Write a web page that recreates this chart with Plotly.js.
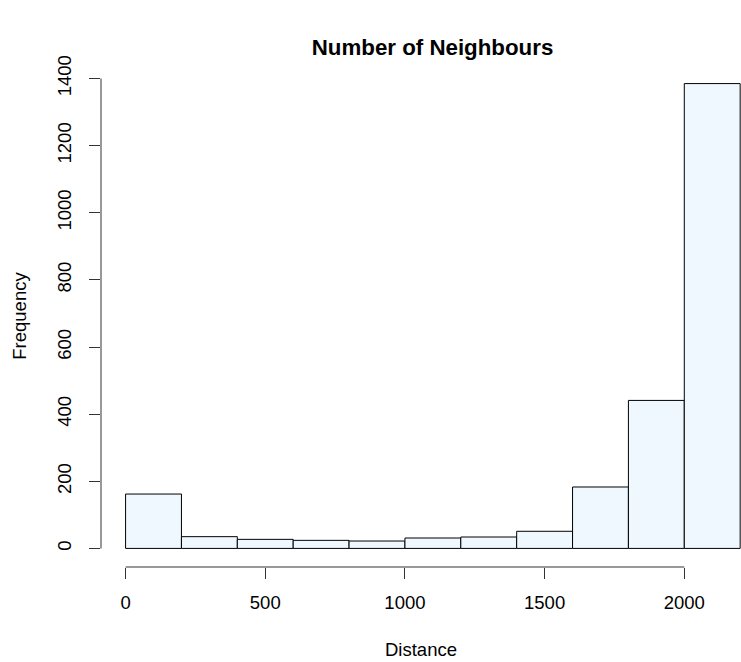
<!DOCTYPE html>
<html>
<head>
<meta charset="utf-8">
<script src="https://cdn.plot.ly/plotly-3.0.1.min.js"></script>
<style>html,body{margin:0;padding:0;background:#fff;}#chart{width:741px;height:662px;}</style>
</head>
<body>
<div id="chart"></div>
<script>
// Histogram bins (left edges, width 200) and counts
const binStarts = [0, 200, 400, 600, 800, 1000, 1200, 1400, 1600, 1800, 2000];
const binWidth = 200;
const counts = [162, 35, 27, 24, 22, 31, 34, 51, 183, 441, 1385];
const xTicks = [0, 500, 1000, 1500, 2000];
const yTicks = [0, 200, 400, 600, 800, 1000, 1200, 1400];

const centers = binStarts.map(s => s + binWidth / 2);
const font = "Liberation Sans, Arial, Helvetica, sans-serif";

const trace = {
  type: 'bar',
  x: centers,
  y: counts,
  width: binStarts.map(() => binWidth),
  marker: {color: '#F0F8FF', line: {color: '#000000', width: 1}},
  hoverinfo: 'x+y'
};

const layout = {
  width: 741, height: 662,
  margin: {l: 101, r: 0, t: 65, b: 95},
  paper_bgcolor: '#ffffff', plot_bgcolor: '#ffffff',
  showlegend: false,
  bargap: 0,
  font: {family: font, size: 18.5, color: '#000'},
  title: {
    text: '<b>Number of Neighbours</b>',
    font: {family: font, size: 22.3, color: '#000'},
    xref: 'paper', x: 0.518, xanchor: 'center',
    yref: 'container', y: 1 - 47 / 662, yanchor: 'middle'
  },
  xaxis: {
    range: [-88, 2203],
    tickvals: xTicks, ticktext: xTicks.map(String),
    ticks: 'outside', ticklen: 11, tickcolor: '#333', tickwidth: 1,
    showgrid: false, zeroline: false, showline: false,
    ticklabelstandoff: 8,
    title: {text: 'Distance', standoff: 30, font: {family: font, size: 18.5}}
  },
  yaxis: {
    range: [-55.4, 1440.4],
    tickvals: yTicks, ticktext: yTicks.map(String),
    tickangle: -90,
    ticks: 'outside', ticklen: 11, tickcolor: '#333', tickwidth: 1,
    showgrid: false, zeroline: false, showline: false,
    ticklabelstandoff: 11,
    title: {text: 'Frequency', standoff: 22, font: {family: font, size: 18.5}}
  },
  shapes: [
    {type: 'line', xref: 'x', yref: 'paper', x0: xTicks[0], x1: xTicks[xTicks.length - 1], y0: 0, y1: 0,
     line: {color: '#333', width: 1}},
    {type: 'line', xref: 'paper', yref: 'y', x0: 0, x1: 0, y0: yTicks[0], y1: yTicks[yTicks.length - 1],
     line: {color: '#333', width: 1}}
  ]
};

Plotly.newPlot('chart', [trace], layout, {displayModeBar: false, staticPlot: true});
</script>
</body>
</html>
